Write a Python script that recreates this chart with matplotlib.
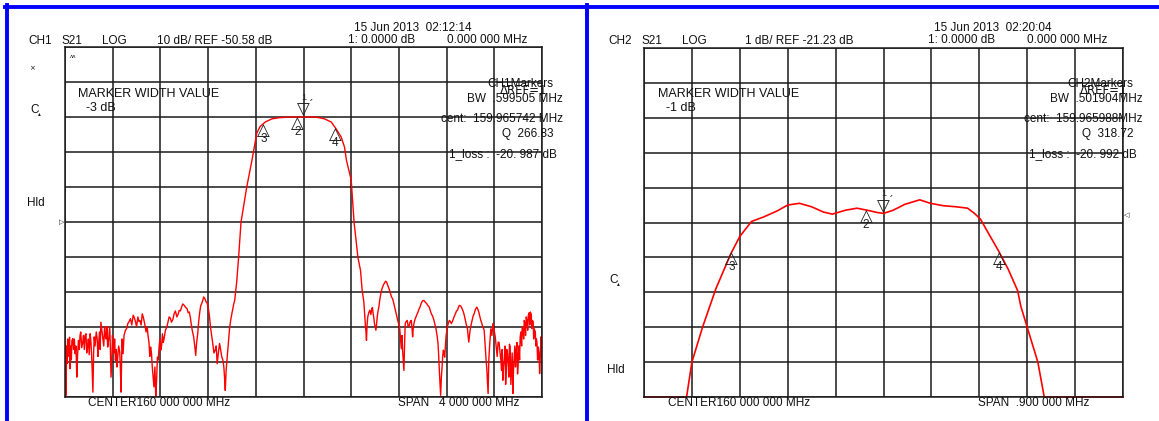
import numpy as np
import matplotlib
matplotlib.use('Agg')
import matplotlib.pyplot as plt
from matplotlib.lines import Line2D

plt.rcParams['font.family'] = ['Liberation Sans Narrow', 'Liberation Sans', 'DejaVu Sans']

W, H = 1159, 421

# ---- CH1 : 10 dB/div, REF -50.58 dB, center 160 MHz, span 4 MHz ----
ch1_lo_freq = [158.000, 158.008, 158.028, 158.042, 158.065, 158.085, 158.099, 158.113, 158.132, 158.149,
               158.169, 158.189, 158.211, 158.234, 158.245, 158.262, 158.282, 158.301, 158.318, 158.338,
               158.358, 158.375, 158.386, 158.403, 158.423, 158.442, 158.459, 158.470, 158.487, 158.507,
               158.527, 158.549, 158.572, 158.592, 158.611, 158.628, 158.648, 158.668, 158.690, 158.704,
               158.718, 158.732, 158.746, 158.761, 158.775, 158.789, 158.803, 158.817, 158.831, 158.854,
               158.873, 158.893, 158.915, 158.938, 158.958, 158.977, 159.000, 159.023, 159.042, 159.062,
               159.079, 159.096, 159.113, 159.130, 159.146, 159.163, 159.183, 159.197, 159.220, 159.239,
               159.259, 159.276, 159.296, 159.315, 159.332, 159.344, 159.358, 159.372, 159.389, 159.408,
               159.423]
ch1_lo_db = [-84.9, -100.1, -85.3, -92.5, -83.9, -88.2, -94.9, -84.4, -82.0, -84.9,
             -83.0, -86.3, -82.5, -99.2, -83.4, -82.0, -85.3, -79.2, -83.9, -83.0,
             -86.3, -80.6, -94.9, -85.8, -90.1, -89.2, -87.7, -99.2, -88.2, -81.5,
             -79.6, -78.2, -77.2, -79.2, -77.7, -78.7, -76.8, -79.6, -80.6, -84.9,
             -86.3, -92.0, -97.7, -100.3, -89.2, -86.3, -87.2, -82.5, -83.9, -80.6,
             -77.7, -79.2, -76.8, -77.7, -75.8, -74.9, -74.4, -75.3, -76.3, -80.6,
             -83.4, -88.7, -82.5, -76.3, -73.9, -72.0, -73.4, -74.4, -80.6, -85.3,
             -87.2, -91.1, -85.3, -89.2, -92.0, -98.7, -90.1, -84.4, -78.7, -75.3,
             -73.0]
# extra spikes read between the points above
ch1_lo_extra_freq = [158.004, 158.014, 158.018, 158.022, 158.034, 158.038, 158.048, 158.053, 158.058, 158.072,
                     158.078, 158.092, 158.105, 158.120, 158.126, 158.140, 158.155, 158.162, 158.176, 158.182,
                     158.196, 158.203, 158.218, 158.225, 158.240, 158.252, 158.270, 158.276, 158.290, 158.295,
                     158.309, 158.325, 158.332, 158.345, 158.351, 158.365, 158.380, 158.394, 158.398, 158.410,
                     158.416, 158.430, 158.436, 158.450, 158.465, 158.478, 158.495, 158.517, 158.538, 158.560,
                     158.582, 158.600, 158.620, 158.638, 158.658, 158.680, 158.696, 158.711, 158.725, 158.739,
                     158.754, 158.768, 158.782, 158.796, 158.810, 158.824, 158.842, 158.864, 158.883, 158.904,
                     158.926, 158.948, 158.968, 158.988, 159.012, 159.033, 159.052, 159.070, 159.088, 159.104,
                     159.121, 159.138, 159.155, 159.173, 159.190, 159.210, 159.230, 159.249, 159.268, 159.286,
                     159.305, 159.324, 159.338, 159.351, 159.365, 159.380, 159.398, 159.415]
ch1_lo_extra_db = [-88.0, -86.0, -91.0, -84.0, -89.0, -83.5, -86.0, -90.0, -84.5, -87.0,
                   -84.0, -86.0, -89.0, -87.0, -83.0, -86.5, -83.0, -87.0, -82.5, -88.0,
                   -84.0, -88.5, -85.0, -90.0, -88.0, -86.0, -84.0, -89.0, -82.0, -87.0,
                   -81.5, -86.0, -80.5, -84.0, -80.5, -84.5, -86.0, -89.0, -83.0, -88.0,
                   -84.0, -87.0, -92.0, -86.0, -93.0, -84.0, -83.0, -81.0, -79.0, -80.0,
                   -78.0, -80.5, -79.0, -80.0, -78.0, -82.0, -83.0, -89.0, -88.0, -95.0,
                   -92.0, -96.0, -90.0, -84.0, -86.0, -85.0, -81.5, -79.0, -78.0, -78.5,
                   -76.0, -77.0, -76.0, -74.0, -75.0, -76.5, -78.0, -82.0, -86.0, -85.0,
                   -79.0, -74.5, -73.0, -72.5, -73.5, -77.0, -83.0, -88.0, -86.0, -88.0,
                   -87.0, -90.0, -95.0, -93.0, -87.0, -81.0, -77.0, -74.0]

ch1_pass_freq = [159.440, 159.456, 159.476, 159.524, 159.568, 159.608, 159.636, 159.680, 159.736, 159.792,
                 159.880, 159.992, 160.104, 160.176, 160.232, 160.272, 160.316, 160.344, 160.360, 160.400,
                 160.424, 160.456, 160.478]
ch1_pass_db = [-67.6, -60.6, -50.6, -40.6, -32.9, -25.2, -23.3, -22.0, -21.1, -20.8,
               -20.6, -20.6, -20.6, -21.1, -22.0, -23.9, -26.3, -29.2, -32.9, -38.6,
               -50.6, -60.6, -64.4]

ch1_hi_freq = [160.492, 160.506, 160.520, 160.528, 160.539, 160.556, 160.573, 160.584, 160.595, 160.607,
               160.618, 160.632, 160.646, 160.663, 160.679, 160.696, 160.713, 160.730, 160.747, 160.764,
               160.780, 160.797, 160.808, 160.820, 160.831, 160.842, 160.853, 160.870, 160.887, 160.904,
               160.915, 160.926, 160.943, 160.960, 160.977, 160.993, 161.010, 161.033, 161.055, 161.072,
               161.094, 161.111, 161.128, 161.139, 161.150, 161.162, 161.173, 161.184, 161.195, 161.206,
               161.223, 161.240, 161.257, 161.274, 161.291, 161.307, 161.324, 161.341, 161.358, 161.375,
               161.386, 161.397, 161.414, 161.431, 161.453, 161.470, 161.487, 161.504, 161.515, 161.526,
               161.537, 161.548, 161.560, 161.571, 161.588, 161.604, 161.616, 161.632, 161.649, 161.661,
               161.672, 161.683, 161.700, 161.711, 161.722, 161.733, 161.745, 161.756, 161.767, 161.784,
               161.801, 161.817, 161.834, 161.851, 161.868, 161.885, 161.902, 161.918, 161.935, 161.952,
               161.969, 161.980, 161.991, 162.000]
ch1_hi_db = [-70.1, -73.4, -80.6, -84.4, -77.7, -75.8, -75.3, -76.8, -79.6, -81.5,
             -77.7, -74.9, -71.5, -69.2, -68.0, -67.7, -69.2, -71.1, -72.5, -74.9,
             -77.2, -79.6, -81.5, -86.8, -87.2, -93.0, -79.6, -78.7, -80.1, -78.7,
             -83.4, -79.6, -77.7, -76.3, -74.9, -73.4, -73.0, -73.9, -74.9, -76.8,
             -78.7, -81.1, -85.3, -93.0, -100.1, -92.0, -87.2, -89.2, -83.4, -80.6,
             -78.7, -79.6, -78.2, -76.8, -75.8, -74.4, -74.9, -76.3, -78.7, -81.1,
             -84.9, -81.5, -78.7, -76.8, -74.9, -76.3, -78.7, -80.6, -81.5, -87.2,
             -92.5, -99.6, -86.3, -81.1, -79.6, -82.5, -86.3, -84.9, -88.2, -93.0,
             -95.8, -90.1, -93.0, -88.2, -94.9, -86.3, -92.0, -99.6, -89.2, -87.2,
             -90.1, -83.4, -80.6, -78.7, -77.7, -77.2, -76.3, -78.7, -81.1, -83.9,
             -86.3, -93.9, -83.4, -83.0]
ch1_hi_extra_freq = [160.500, 160.513, 160.524, 160.533, 160.547, 160.565, 160.578, 160.590, 160.601, 160.612,
                     160.625, 160.639, 160.655, 160.671, 160.688, 160.705, 160.721, 160.738, 160.755, 160.772,
                     160.789, 160.803, 160.814, 160.826, 160.836, 160.848, 160.860, 160.878, 160.895, 160.910,
                     160.920, 160.934, 160.951, 160.968, 160.985, 161.002, 161.021, 161.044, 161.064, 161.083,
                     161.103, 161.120, 161.134, 161.145, 161.156, 161.167, 161.178, 161.190, 161.200, 161.214,
                     161.232, 161.249, 161.265, 161.283, 161.299, 161.316, 161.332, 161.350, 161.366, 161.380,
                     161.392, 161.405, 161.422, 161.442, 161.462, 161.478, 161.495, 161.510, 161.520, 161.531,
                     161.542, 161.554, 161.565, 161.580, 161.596, 161.610, 161.624, 161.640, 161.655, 161.666,
                     161.677, 161.690, 161.695, 161.705, 161.716, 161.727, 161.739, 161.750, 161.761, 161.772,
                     161.778, 161.790, 161.795, 161.806, 161.812, 161.823, 161.829, 161.840, 161.846, 161.857,
                     161.862, 161.874, 161.880, 161.893, 161.897, 161.910, 161.914, 161.926, 161.930, 161.944,
                     161.948, 161.958, 161.963, 161.975, 161.986, 161.996]
ch1_hi_extra_db = [-72.0, -77.0, -82.0, -80.0, -76.5, -77.0, -75.0, -78.0, -80.5, -80.0,
                   -76.0, -73.0, -70.0, -68.5, -67.5, -68.5, -70.0, -72.0, -73.5, -76.0,
                   -78.5, -80.0, -84.0, -83.0, -90.0, -85.0, -79.0, -80.5, -79.0, -81.0,
                   -81.0, -78.5, -77.0, -75.5, -74.0, -73.0, -73.5, -74.5, -76.0, -77.5,
                   -80.0, -83.0, -89.0, -97.0, -95.0, -89.0, -88.0, -86.0, -82.0, -79.5,
                   -79.0, -79.0, -77.5, -76.0, -75.0, -74.5, -75.5, -77.5, -80.0, -83.0,
                   -83.0, -80.0, -77.5, -75.5, -75.5, -77.5, -79.5, -81.0, -84.0, -90.0,
                   -96.0, -90.0, -84.0, -83.0, -81.0, -84.0, -89.0, -85.0, -90.0, -87.0,
                   -92.0, -86.0, -97.0, -87.0, -91.0, -85.5, -97.0, -88.0, -93.0, -86.0,
                   -92.0, -85.0, -94.0, -86.0, -90.0, -82.0, -86.0, -81.0, -84.0, -79.5,
                   -83.0, -79.0, -81.5, -76.5, -80.0, -77.0, -81.0, -79.0, -84.0, -82.0,
                   -86.0, -85.0, -90.0, -88.0, -89.0, -86.0]

# ---- CH2 : 1 dB/div, REF -21.23 dB, center 160 MHz, span 0.9 MHz ----
ch2_freq = [159.550, 159.630, 159.640, 159.660, 159.685, 159.713, 159.730, 159.752, 159.775, 159.800,
            159.820, 159.842, 159.865, 159.887, 159.904, 159.928, 159.950, 159.970, 159.987, 160.000,
            160.018, 160.040, 160.068, 160.088, 160.113, 160.137, 160.158, 160.171, 160.182, 160.198,
            160.216, 160.234, 160.252, 160.258, 160.270, 160.290, 160.302, 160.450]
ch2_db = [-26.23, -26.23, -25.23, -24.23, -23.13, -22.13, -21.63, -21.20, -21.07, -20.90,
          -20.73, -20.68, -20.78, -20.93, -20.99, -20.88, -20.82, -20.88, -20.94, -20.97,
          -20.88, -20.71, -20.58, -20.68, -20.75, -20.78, -20.82, -20.97, -21.13, -21.56,
          -22.04, -22.56, -23.18, -23.63, -24.23, -25.23, -26.23, -26.23]

ch1_markers = {'1': 160.000, '2': 159.950, '3': 159.666, '4': 160.266}
ch2_markers = {'1': 160.000, '2': 159.967, '3': 159.715, '4': 160.217}

fig = plt.figure(figsize=(W / 100, H / 100), dpi=100)
fig.patch.set_facecolor('white')


def px_axes(x0, y0, x1, y1):
    return fig.add_axes([x0 / W, 1 - y1 / H, (x1 - x0) / W, (y1 - y0) / H])


def txt(x, y, s, size=8.5, ha='left', **kw):
    fig.text(x / W, 1 - y / H, s, fontsize=size, ha=ha, va='center', color='#111111', **kw)


def draw_grid(ax, f0, f1, ref, per_div):
    ax.set_xlim(f0, f1)
    ax.set_ylim(ref - 5 * per_div, ref + 5 * per_div)
    ax.set_xticks(np.linspace(f0, f1, 11))
    ax.set_yticks(np.linspace(ref - 5 * per_div, ref + 5 * per_div, 11))
    ax.grid(True, color='#1a1a1a', lw=1.1)
    ax.tick_params(length=0, labelbottom=False, labelleft=False)
    for sp in ax.spines.values():
        sp.set_color('#1a1a1a')
        sp.set_linewidth(1.1)
    ax.set_axisbelow(True)


def draw_markers(ax, freq, db, markers):
    for name, f in markers.items():
        v = np.interp(f, freq, db)
        if name == '1':
            ax.annotate('▽', (f, v), xytext=(0, 5), textcoords='offset points', ha='center', va='center',
                        fontsize=12, family='DejaVu Sans', color='#222222')
            ax.annotate('1', (f, v), xytext=(0, 14), textcoords='offset points', ha='center', va='center',
                        fontsize=6.5, color='#222222')
            ax.annotate('ˊ', (f, v), xytext=(5, 9), textcoords='offset points', ha='center', va='center',
                        fontsize=8, family='DejaVu Sans', color='#222222')
        else:
            ax.annotate('△', (f, v), xytext=(0, -4.5), textcoords='offset points', ha='center', va='center',
                        fontsize=12, family='DejaVu Sans', color='#222222')
            ax.annotate(name, (f, v), xytext=(0, -11), textcoords='offset points', ha='center', va='center',
                        fontsize=8.5, color='#222222')


# left panel
ax1 = px_axes(65, 47, 542, 397)
draw_grid(ax1, 158.0, 162.0, -50.58, 10)
f1 = np.concatenate([ch1_lo_freq, ch1_lo_extra_freq, ch1_pass_freq, ch1_hi_freq, ch1_hi_extra_freq])
d1 = np.concatenate([ch1_lo_db, ch1_lo_extra_db, ch1_pass_db, ch1_hi_db, ch1_hi_extra_db])
order = np.argsort(f1, kind='stable')
f1, d1 = f1[order], d1[order]
ax1.plot(f1, d1, color='red', lw=1.0)
draw_markers(ax1, f1, d1, ch1_markers)

# right panel
ax2 = px_axes(644, 48, 1123, 397)
draw_grid(ax2, 159.55, 160.45, -21.23, 1)
ax2.plot(ch2_freq, ch2_db, color='red', lw=1.2, clip_on=False)
draw_markers(ax2, ch2_freq, ch2_db, ch2_markers)

# blue frame
for seg in [((5, 1159), (6.5, 6.5)), ((6.5, 6.5), (5, 421)), ((586.5, 586.5), (5, 421))]:
    fig.add_artist(Line2D([seg[0][0] / W, seg[0][1] / W], [1 - seg[1][0] / H, 1 - seg[1][1] / H],
                          color='#0000ff', lw=2.8, transform=fig.transFigure))

# header texts
for dx, ch, scale, date, bw, cent, q, loss, width, span in [
        (0, 'CH1', '10 dB/ REF -50.58 dB', '15 Jun 2013  02:12:14', 'BW  .599505 MHz',
         'cent:  159.965742 MHz', 'Q  266.83', '1_loss :  -20. 987 dB', '-3 dB', 'SPAN   4 000 000 MHz'),
        (580, 'CH2', '1 dB/ REF -21.23 dB', '15 Jun 2013  02:20:04', 'BW  .501904MHz',
         'cent:  159.965988MHz', 'Q  318.72', '1_loss :  -20. 992 dB', '-1 dB', 'SPAN  .900 000 MHz')]:
    txt(28 + dx, 41, ch, size=8.5)
    txt(62 + dx, 41, 'S21', size=8.5)
    txt(102 + dx, 41, 'LOG', size=8.5)
    txt(157 + dx + (8 if dx else 0), 41, scale, size=8.5)
    txt(354 + dx, 28, date, size=8.5)
    txt(348 + dx, 40, '1: 0.0000 dB', size=8.5)
    txt(447 + dx, 40, '0.000 000 MHz', size=8.5)
    txt(78 + dx, 94, 'MARKER WIDTH VALUE', size=9)
    txt(86 + dx, 108, width, size=9)
    txt(487 + dx, 84, ch + 'Markers', size=8.5)
    txt(500 + dx, 91, 'ΔREF=1', size=8.5, family=['Liberation Sans Narrow', 'DejaVu Sans'])
    txt(563 + dx, 99, bw, size=8.5, ha='right')
    txt(563 + dx, 119, cent, size=8.5, ha='right')
    txt(554 + dx, 134, q, size=8.5, ha='right')
    txt(557 + dx, 154, loss, size=8.5, ha='right')
    txt(88 + dx, 403, 'CENTER160 000 000 MHz', size=8.5)
    txt(398 + dx, 403, span, size=8.5)

# side symbols
txt(27, 203, 'Hld', size=8.5)
txt(607, 370, 'Hld', size=8.5)
txt(30, 110, 'C', size=8.5)
txt(609, 280, 'C', size=8.5)
txt(38, 114, '▴', size=4, family='DejaVu Sans')
txt(617, 284, '▴', size=4, family='DejaVu Sans')
txt(29, 68, '×', size=5, family='DejaVu Sans')
txt(70, 57, 'ʌʌ', size=4, family='DejaVu Sans')
txt(59, 222, '▷', size=5, family='DejaVu Sans')
txt(1124, 215, '◁', size=5, family='DejaVu Sans')

fig.savefig('out.png', dpi=100)
